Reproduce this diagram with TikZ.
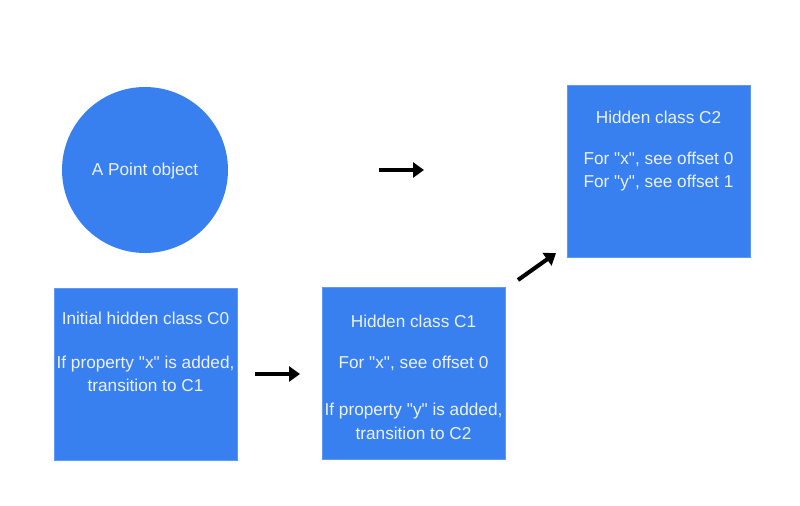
\documentclass[tikz,border=0pt]{standalone}
\usepackage{fontspec}
\setmainfont{Liberation Sans}
\usetikzlibrary{arrows.meta}
\definecolor{hcblue}{RGB}{56,128,240}
\definecolor{hcwhite}{RGB}{236,241,252}
\newcommand{\qq}{\textquotedbl}
\tikzset{
	hcbox/.style={draw=hcblue!80!white,fill=hcblue,minimum width=3.66cm,minimum height=3.44cm,inner sep=0pt},
	hcball/.style={circle,fill=hcblue,minimum size=3.32cm,inner sep=0pt},
	hctext/.style={text=hcwhite,align=center,font=\fontsize{9.8}{13.4}\selectfont},
	hcarrow/.style={line width=2.3pt,-{Triangle[length=0.22cm,width=0.3cm]}}
}
\begin{document}
\begin{tikzpicture}[x=0.02cm,y=0.02cm]
		\useasboundingbox [fill=white] (0,0) rectangle (800,-506);
		%
		\node [hcball] (point) at (145,-170) {};
		\node [hctext] (pointt) at (145,-171.5) {A Point object};
		%
		\node [hcbox] (c0) at (145.5,-374.5) {};
		\node [hcbox] (c1) at (413.5,-373.5) {};
		\node [hcbox] (c2) at (658.5,-171) {};
		%
		\node [hctext] (c0t) at (145.5,-352) {Initial hidden class C0\\[11.5pt]If property \qq x\qq{} is added,\\transition to C1};
		\node [hctext] (c1t) at (413.5,-377) {Hidden class C1\\[10pt]For \qq x\qq, see offset 0\\[13.5pt]If property \qq y\qq{} is added,\\transition to C2};
		\node [hctext] (c2t) at (658.5,-151) {Hidden class C2\\[10pt]For \qq x\qq, see offset 0\\For \qq y\qq, see offset 1};
		%
		\coordinate (a1s) at (379,-170);
		\coordinate (a1e) at (424,-170);
		\coordinate (a2s) at (255,-374);
		\coordinate (a2e) at (300,-374);
		\coordinate (a3s) at (518,-280);
		\coordinate (a3e) at (556,-253);
		\draw [hcarrow] (a1s) -- (a1e);
		\draw [hcarrow] (a2s) -- (a2e);
		\draw [hcarrow] (a3s) -- (a3e);
	\end{tikzpicture}
\end{document}
